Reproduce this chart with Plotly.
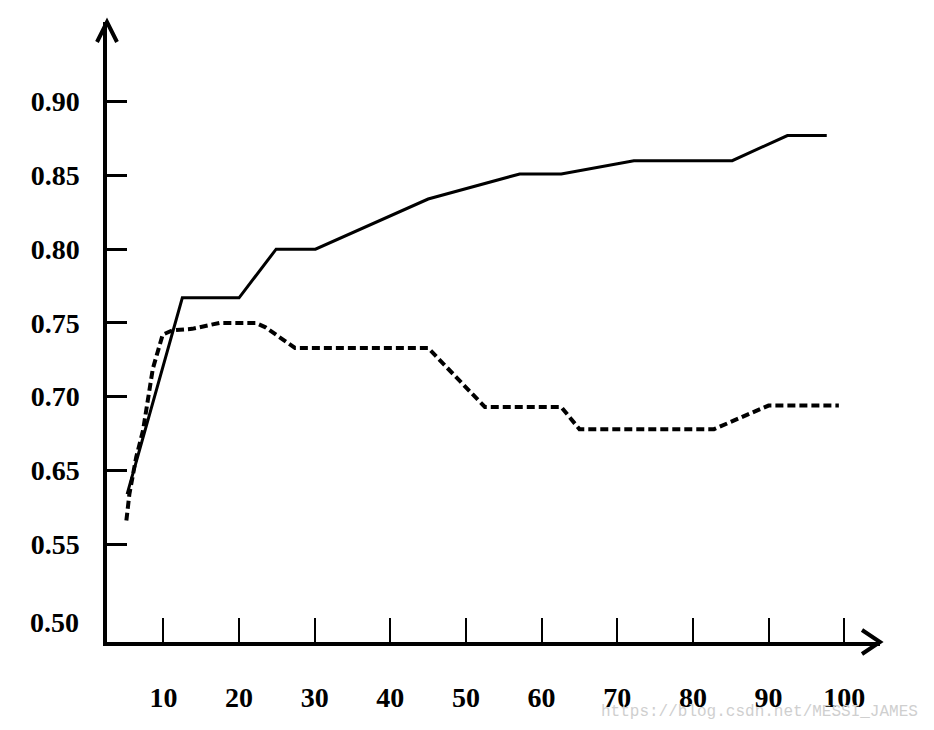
import plotly.graph_objects as go

# solid curve; y is in the chart's own tick scale
solid_x = [5.2, 12.5, 20.0, 24.9, 30.1, 45.0, 57.1, 62.6, 72.2, 85.2, 92.5, 97.7]
solid_y = [0.634, 0.767, 0.767, 0.800, 0.800, 0.834, 0.851, 0.851, 0.860, 0.860, 0.877, 0.877]

# dashed curve
dash_x = [5.1, 5.5, 6.4, 7.3, 8.6, 9.9, 11.2, 13.8, 17.4, 22.2, 23.5, 27.4,
          45.0, 52.5, 62.6, 65.0, 82.8, 90.0, 99.3]
dash_y = [0.616, 0.634, 0.659, 0.677, 0.719, 0.742, 0.745, 0.746, 0.750, 0.750, 0.747, 0.733,
          0.733, 0.693, 0.693, 0.678, 0.678, 0.694, 0.694]

x_ticks = [10, 20, 30, 40, 50, 60, 70, 80, 90, 100]
y_ticks = [0.60, 0.65, 0.70, 0.75, 0.80, 0.85, 0.90]
y_labels = ['0.55', '0.65', '0.70', '0.75', '0.80', '0.85', '0.90']

font_lbl = dict(family='Liberation Serif', size=28, color='black', weight='bold')

fig = go.Figure()
fig.add_trace(go.Scatter(x=solid_x, y=solid_y, mode='lines',
                         line=dict(color='black', width=3)))
fig.add_trace(go.Scatter(x=dash_x, y=dash_y, mode='lines',
                         line=dict(color='black', width=4, dash='8px,4px')))

# page body adds 8px offset, margins are trimmed for it
fig.update_layout(
    width=934, height=730,
    margin=dict(l=99, r=62, t=14, b=96),
    paper_bgcolor='white', plot_bgcolor='white',
    showlegend=False,
    xaxis=dict(range=[2.54, 104.74], tickvals=x_ticks, ticks='inside', ticklen=24,
               tickwidth=2, tickcolor='black', showline=True, linecolor='black',
               linewidth=4, showgrid=False, zeroline=False, tickfont=font_lbl,
               ticklabelstandoff=27),
    yaxis=dict(range=[0.5337, 0.954], tickvals=y_ticks, ticktext=y_labels,
               ticks='inside', ticklen=20, tickwidth=2.5, tickcolor='black',
               showline=True, linecolor='black', linewidth=3.5, showgrid=False,
               zeroline=False, tickfont=font_lbl, ticklabelstandoff=18),
)

# 0.50 label sits next to the axis corner without a tick
fig.add_annotation(x=0, xref='paper', y=0.55, yref='y', text='0.50', showarrow=False,
                   xanchor='right', yanchor='middle', xshift=-26, yshift=-5, font=font_lbl)

# arrow heads on both axes
fig.add_shape(type='path', xref='paper', yref='paper', xsizemode='pixel', ysizemode='pixel',
              xanchor=1, yanchor=0, path='M -18,12 L 0,0 L -18,-12',
              line=dict(color='black', width=4))
fig.add_shape(type='path', xref='paper', yref='paper', xsizemode='pixel', ysizemode='pixel',
              xanchor=0, yanchor=1, path='M -10,-20 L 0,0 L 10,-20',
              line=dict(color='black', width=4))

# watermark
fig.add_annotation(x=1.0515, y=-0.113, xref='paper', yref='paper',
                   text='https://blog.csdn.net/MESSI_JAMES', showarrow=False,
                   xanchor='right', yanchor='middle',
                   font=dict(family='Liberation Mono', size=16, color='#cfcfcf'))

fig.write_html("out.html")
